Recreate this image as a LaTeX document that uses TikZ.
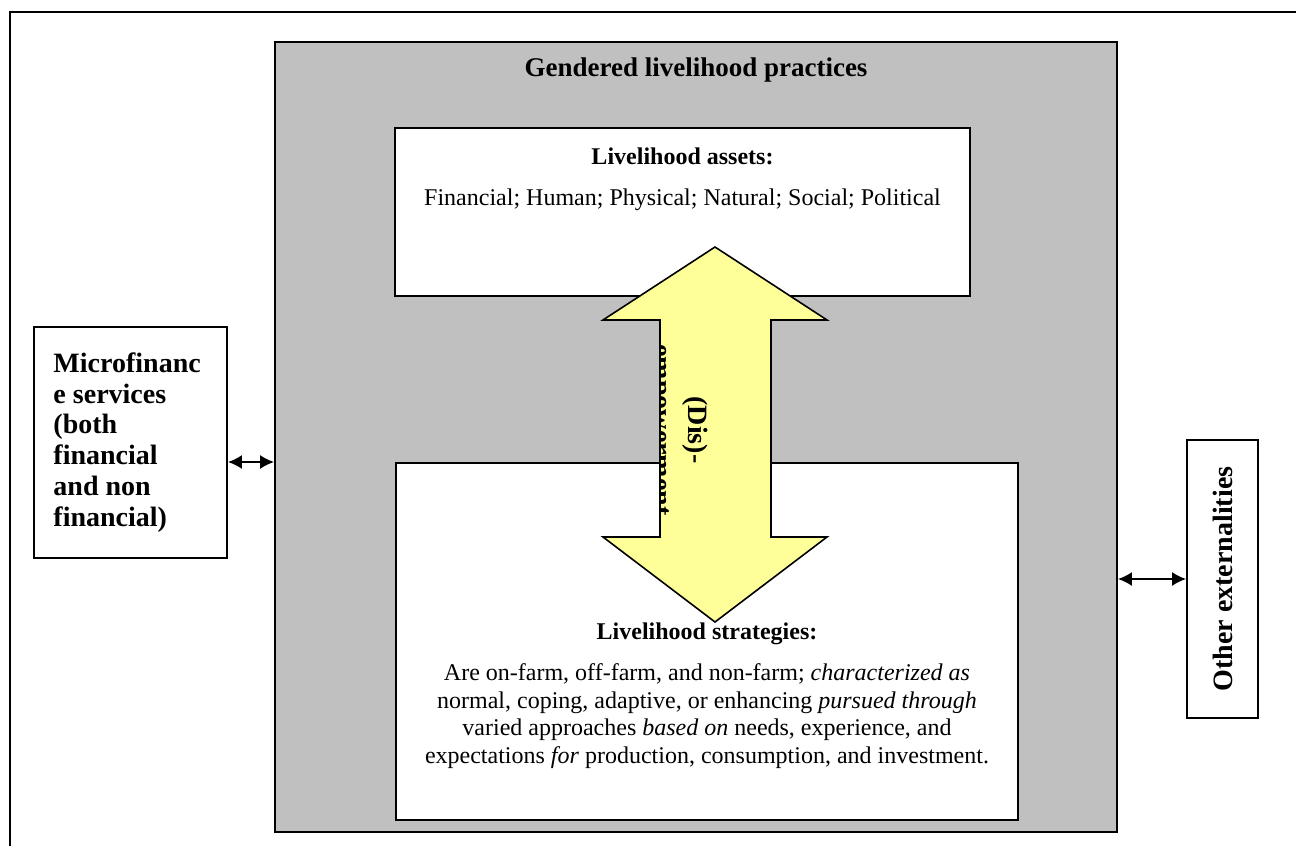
\documentclass[tikz,border=0pt]{standalone}
\usepackage{fontspec}
\setmainfont{Liberation Serif}
\usetikzlibrary{arrows.meta}
\usetikzlibrary{calc}
\usetikzlibrary{positioning}

\definecolor{panelgray}{HTML}{C0C0C0}
\definecolor{arrowyellow}{HTML}{FFFF99}

\begin{document}
\begin{tikzpicture}[x=0.5pt,y=-0.5pt,
    box/.style={draw,line width=0.9pt,fill=white,rectangle,inner sep=0pt},
    hd/.style={font=\bfseries\fontsize{12}{14}\selectfont,inner sep=0pt},
    txt/.style={font=\fontsize{12}{13.8}\selectfont,inner sep=0pt,align=center},
    link/.style={draw,line width=1pt,{Latex[length=7pt,width=7pt]}-{Latex[length=7pt,width=7pt]}}]

  \useasboundingbox (0,0) rectangle (1296,846);
  \draw [line width=0.8pt] (10,846) |- (1296,12);

  \node [box,fill=panelgray,minimum width=421pt,minimum height=395pt] (gl) at (696,437) {};
  \node [hd,font=\bfseries\fontsize{13.5}{16}\selectfont,below=8pt of gl.north] (glhd) {Gendered livelihood practices};

  \node [box,minimum width=287.5pt,minimum height=84pt] (assets) at (682.5,212) {};
  \node [hd,below=10pt of assets.north] (assetshd) {Livelihood assets:};
  \node [txt,below=12pt of assetshd] (assetstxt) {Financial; Human; Physical; Natural; Social; Political};

  \node [box,minimum width=311pt,minimum height=178.5pt] (strat) at (707,641.5) {};
  \node [txt] (strattxt) at (707,716) {Are on-farm, off-farm, and non-farm; \textit{characterized as}\\
    normal, coping, adaptive, or enhancing \textit{pursued through}\\
    varied approaches \textit{based on} needs, experience, and\\
    expectations \textit{for} production, consumption, and investment.};
  \node [hd,above=9pt of strattxt] (strathd) {Livelihood strategies:};

  % (dis)-empowerment arrow between assets and strategies
  \filldraw [fill=arrowyellow,line width=0.8pt,line join=miter]
    (715,247) -- (827,320) -- (771,320) -- (771,537) -- (827,537) -- (715,622)
    -- (603,537) -- (660,537) -- (660,320) -- (603,320) -- cycle;
  \begin{scope}
    \clip (660,320) rectangle (771,537);
    \node [rotate=-90,align=center,inner sep=0pt,font=\bfseries\fontsize{14}{17.5}\selectfont] (dis) at (678,430) {(Dis)-\\empowerment};
  \end{scope}

  \node [box,minimum width=96.5pt,minimum height=115.5pt] (mf) at (130.5,442.5) {};
  \node [anchor=west,align=left,inner sep=0pt,font=\bfseries\fontsize{14}{15.4}\selectfont,right=10pt of mf.west] (mftxt) {Microfinanc\\e services\\(both\\financial\\and non\\financial)};

  \node [box,minimum width=35.5pt,minimum height=139pt] (ext) at (1222.5,579) {};
  \node [rotate=90,inner sep=0pt,font=\bfseries\fontsize{14}{16}\selectfont] (exttxt) at (ext.center) {Other externalities};

  \coordinate (mflink) at ($(mf.east)+(0,19.5)$);
  \path [link] (mflink) -- (gl.west |- mflink);
  \path [link] (gl.east |- ext.west) -- (ext.west);

\end{tikzpicture}
\end{document}
